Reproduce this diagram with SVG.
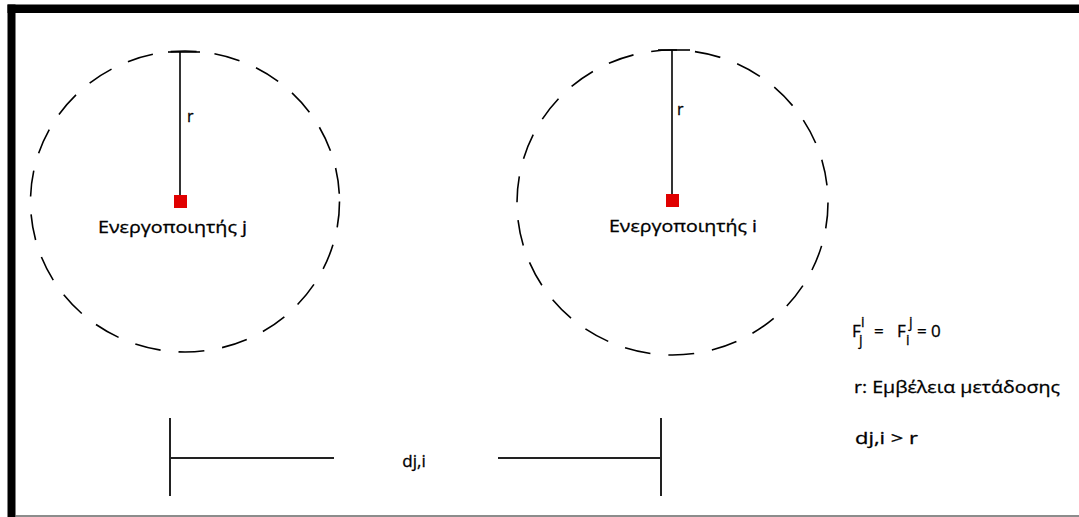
<svg xmlns="http://www.w3.org/2000/svg" width="1079" height="517" viewBox="0 0 1079 517">
<style>
.t{font-family:"Open Sans","Liberation Sans",sans-serif;fill:#000;stroke:#000;stroke-width:0.3;}
.ring{fill:none;stroke:#000;stroke-width:1.6;stroke-dasharray:26 18;}
.ln{stroke:#000;stroke-width:1.6;fill:none;}
.dim{stroke:#222;stroke-width:2;fill:none;}
</style>
<rect width="1079" height="517" fill="#fff"/>
<g id="frame">
<rect x="7.5" y="4.5" width="1072" height="8.5" fill="#000"/>
<rect x="7.5" y="4.5" width="8" height="513" fill="#000"/>
<line x1="15" y1="516" x2="1079" y2="516" stroke="#666" stroke-width="1.5"/>
</g>
<g id="node-j">
<ellipse class="ring" cx="185" cy="201.5" rx="154.5" ry="150.5"/>
<line class="ln" x1="180" y1="52" x2="180" y2="196"/>
<line class="ln" x1="168" y1="52" x2="200" y2="52"/>
<rect x="174" y="195" width="13" height="13" fill="#e00000"/>
<text class="t" x="187" y="122" font-size="16">r</text>
<text class="t" x="98" y="233" font-size="16" textLength="149" lengthAdjust="spacingAndGlyphs">Ενεργοποιητής j</text>
</g>
<g id="node-i">
<ellipse class="ring" cx="672.5" cy="202.5" rx="155.5" ry="152.5"/>
<line class="ln" x1="672" y1="50" x2="672" y2="195"/>
<line class="ln" x1="658" y1="50" x2="690" y2="50"/>
<rect x="666" y="194" width="13" height="13" fill="#e00000"/>
<text class="t" x="677" y="115" font-size="16">r</text>
<text class="t" x="609" y="232" font-size="16" textLength="148" lengthAdjust="spacingAndGlyphs">Ενεργοποιητής i</text>
</g>
<g id="connectors">
<line class="dim" x1="170" y1="418" x2="170" y2="496"/>
<line class="dim" x1="171" y1="458" x2="334" y2="458"/>
<line class="dim" x1="498" y1="458" x2="662" y2="458"/>
<line class="dim" x1="661" y1="418" x2="661" y2="496"/>
</g>
<g id="dist-label">
<text class="t" x="414" y="467" font-size="17" text-anchor="middle">dj,i</text>
</g>
<g id="legend">
<text class="t" x="852" y="337" font-size="17">F</text>
<text class="t" x="861" y="327" font-size="14">i</text>
<text class="t" x="859" y="345" font-size="14">j</text>
<text class="t" x="874" y="337" font-size="17">=</text>
<text class="t" x="897" y="337" font-size="17">F</text>
<text class="t" x="906" y="345" font-size="14">i</text>
<text class="t" x="909" y="327" font-size="14">j</text>
<text class="t" x="917" y="337" font-size="17">=</text>
<text class="t" x="931" y="337" font-size="17">0</text>
<text class="t" x="854" y="393" font-size="17" textLength="206" lengthAdjust="spacingAndGlyphs">r: Εμβέλεια μετάδοσης</text>
<text class="t" x="855" y="444" font-size="17" textLength="63" lengthAdjust="spacingAndGlyphs">dj,i &gt; r</text>
</g>
</svg>
